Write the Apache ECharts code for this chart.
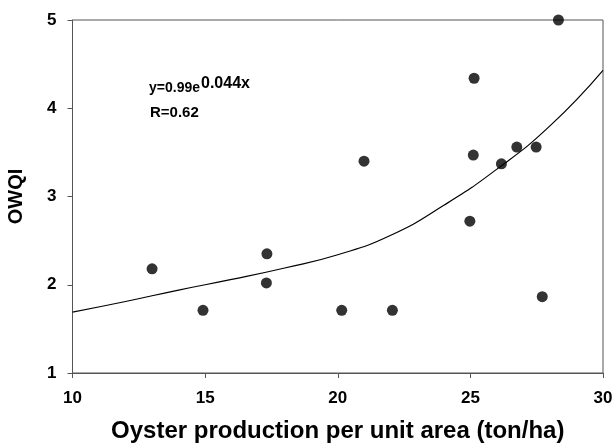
<!DOCTYPE html>
<html>
<head>
<meta charset="utf-8">
<script src="https://cdn.jsdelivr.net/npm/echarts@6/dist/echarts.min.js"></script>
<style>html,body{margin:0;padding:0;background:#fff}#c{width:616px;height:448px}</style>
</head>
<body>
<div id="c"></div>
<script>
// Observed points (oyster production, OWQI)
var productionX = [13.0, 14.92, 17.33, 17.31, 20.15, 22.06, 24.98, 27.71, 28.32, 25.14, 20.99, 25.11, 26.17, 26.75, 27.48];
var owqiY = [2.18, 1.71, 2.35, 2.02, 1.71, 1.71, 2.72, 1.865, 5.0, 4.34, 3.40, 3.47, 3.37, 3.56, 3.56];
// Fitted curve
var curveX = [10, 12, 14, 16, 18, 20, 22, 24, 26, 28, 30];
var curveY = [1.69, 1.81, 1.94, 2.06, 2.19, 2.34, 2.56, 2.90, 3.31, 3.80, 4.43];
var xTicks = [10, 15, 20, 25, 30];
var yTicks = [1, 2, 3, 4, 5];

var pts = productionX.map(function (x, i) { return [x, owqiY[i]]; });
var curve = curveX.map(function (x, i) { return [x, curveY[i]]; });

var font = "'Liberation Sans', Arial, sans-serif";
var chart = echarts.init(document.getElementById('c'), null, { renderer: 'canvas' });
chart.setOption({
  animation: false,
  backgroundColor: '#fff',
  grid: { left: 72.5, right: 13, top: 20, bottom: 75, show: true, borderColor: '#555', borderWidth: 1,
          backgroundColor: 'transparent', containLabel: false, outerBoundsMode: 'none' },
  xAxis: {
    type: 'value', min: xTicks[0], max: xTicks[xTicks.length - 1], interval: 5,
    name: 'Oyster production per unit area (ton/ha)', nameLocation: 'middle', nameGap: 46,
    nameTextStyle: { fontFamily: font, fontWeight: 'bold', fontSize: 24, color: '#000' },
    axisLine: { show: true, lineStyle: { color: '#555', width: 1 } },
    axisTick: { show: true, length: 5, lineStyle: { color: '#555' } },
    axisLabel: { margin: 17, fontFamily: font, fontWeight: 'bold', fontSize: 17, color: '#000' },
    splitLine: { show: false }
  },
  yAxis: {
    type: 'value', min: yTicks[0], max: yTicks[yTicks.length - 1], interval: 1,
    name: 'OWQI', nameLocation: 'middle', nameGap: 46, nameRotate: 90,
    nameTextStyle: { fontFamily: font, fontWeight: 'bold', fontSize: 20, color: '#000' },
    axisLine: { show: true, lineStyle: { color: '#555', width: 1 } },
    axisTick: { show: true, length: 5, lineStyle: { color: '#555' } },
    axisLabel: { margin: 16, fontFamily: font, fontWeight: 'bold', fontSize: 17, color: '#000' },
    splitLine: { show: false }
  },
  graphic: [
    {
      type: 'text', left: 149, top: 81,
      style: { text: 'y=0.99e', fontFamily: font, fontWeight: 'bold', fontSize: 14, fill: '#000' }
    },
    {
      type: 'text', left: 201, top: 76,
      style: { text: '0.044x', fontFamily: font, fontWeight: 'bold', fontSize: 16, fill: '#000' }
    },
    {
      type: 'text', left: 150, top: 105,
      style: { text: 'R=0.62', fontFamily: font, fontWeight: 'bold', fontSize: 15, fill: '#000' }
    }
  ],
  series: [
    {
      type: 'line', data: curve, smooth: 0.5, symbol: 'none',
      lineStyle: { color: '#000', width: 1.2 }, z: 2
    },
    {
      type: 'scatter', data: pts, symbol: 'circle', symbolSize: 11,
      itemStyle: { color: '#000' }, z: 3
    }
  ]
});
</script>
</body>
</html>
